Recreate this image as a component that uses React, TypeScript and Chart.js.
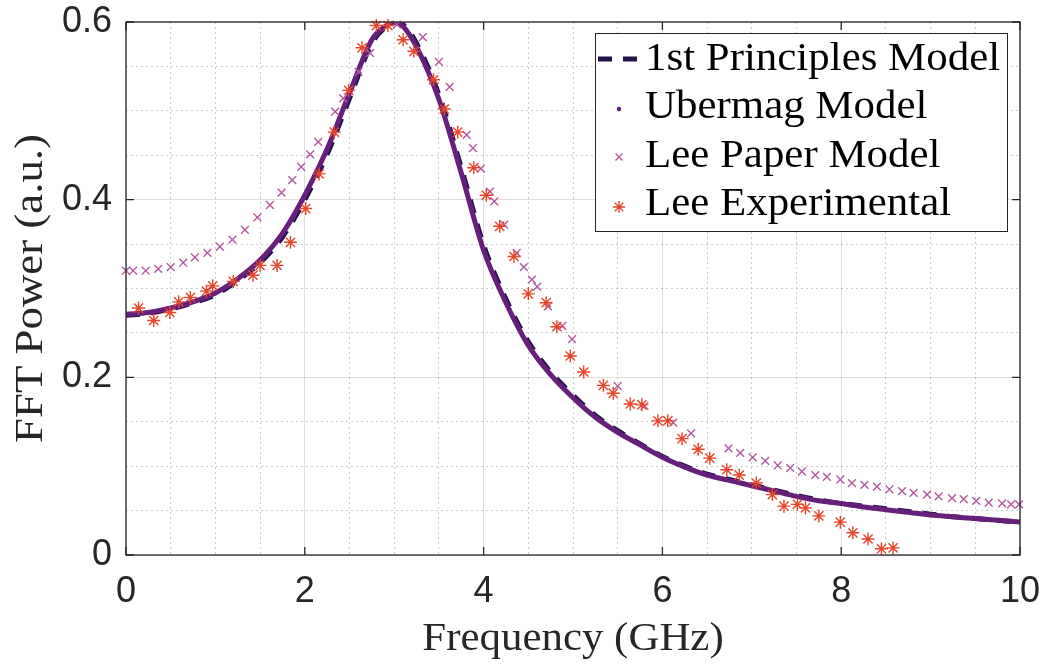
import React, { useEffect, useRef } from 'react';
import { Chart, registerables } from 'chart.js';

Chart.register(...registerables);

// ---------- data ----------
const modelX = [0, 0.25, 0.5, 0.75, 1, 1.25, 1.5, 1.75, 2, 2.25, 2.5, 2.75, 2.9, 3, 3.1, 3.25, 3.5, 3.75, 4, 4.25, 4.5, 4.75, 5, 5.25, 5.5, 5.75, 6, 6.25, 6.5, 6.75, 7, 7.25, 7.5, 7.75, 8, 8.25, 8.5, 8.75, 9, 9.25, 9.5, 9.75, 10];
const ubermagY = [0.271, 0.273, 0.278, 0.285, 0.295, 0.311, 0.332, 0.362, 0.405, 0.457, 0.52, 0.58, 0.595, 0.6, 0.595, 0.572, 0.513, 0.43, 0.343, 0.284, 0.236, 0.203, 0.177, 0.155, 0.138, 0.124, 0.11, 0.099, 0.09, 0.084, 0.078, 0.072, 0.066, 0.061, 0.058, 0.054, 0.051, 0.048, 0.045, 0.043, 0.041, 0.039, 0.037];
const principlesY = [0.27, 0.272, 0.277, 0.284, 0.293, 0.309, 0.329, 0.358, 0.4, 0.451, 0.514, 0.576, 0.594, 0.6, 0.597, 0.576, 0.518, 0.436, 0.349, 0.288, 0.24, 0.206, 0.18, 0.157, 0.14, 0.125, 0.111, 0.1, 0.091, 0.085, 0.079, 0.073, 0.067, 0.062, 0.058, 0.055, 0.052, 0.049, 0.046, 0.043, 0.041, 0.039, 0.037];

const leePaperX = [0, 0.08, 0.22, 0.36, 0.5, 0.64, 0.77, 0.91, 1.05, 1.19, 1.33, 1.47, 1.61, 1.74, 1.86, 1.96, 2.06, 2.15, 2.34, 2.43, 2.6, 2.73, 3.03, 3.32, 3.5, 3.62, 3.81, 3.88, 3.97, 4.07, 4.12, 4.23, 4.37, 4.45, 4.54, 4.6, 4.72, 4.88, 4.99, 5.5, 5.8, 6.12, 6.32, 6.74, 6.87, 7.01, 7.15, 7.29, 7.43, 7.56, 7.71, 7.84, 7.99, 8.12, 8.26, 8.4, 8.54, 8.68, 8.81, 8.96, 9.09, 9.24, 9.37, 9.51, 9.65, 9.8, 9.9, 9.99];
const leePaperY = [0.32, 0.32, 0.32, 0.322, 0.324, 0.329, 0.335, 0.34, 0.347, 0.355, 0.366, 0.38, 0.394, 0.408, 0.422, 0.437, 0.451, 0.465, 0.499, 0.514, 0.544, 0.565, 0.597, 0.583, 0.555, 0.527, 0.473, 0.458, 0.435, 0.409, 0.398, 0.372, 0.34, 0.324, 0.31, 0.302, 0.28, 0.258, 0.243, 0.19, 0.168, 0.149, 0.137, 0.12, 0.115, 0.11, 0.106, 0.101, 0.098, 0.094, 0.09, 0.088, 0.085, 0.081, 0.079, 0.077, 0.074, 0.072, 0.07, 0.068, 0.066, 0.064, 0.063, 0.061, 0.059, 0.058, 0.057, 0.057];

const leeExpX = [0.14, 0.31, 0.49, 0.59, 0.72, 0.9, 0.97, 1.2, 1.42, 1.5, 1.69, 1.84, 2.01, 2.16, 2.33, 2.49, 2.64, 2.8, 2.93, 3.1, 3.22, 3.44, 3.56, 3.71, 3.89, 4.03, 4.18, 4.34, 4.5, 4.7, 4.82, 4.97, 5.12, 5.34, 5.45, 5.64, 5.77, 5.95, 6.06, 6.22, 6.4, 6.53, 6.72, 6.86, 7.05, 7.23, 7.36, 7.51, 7.6, 7.75, 7.99, 8.13, 8.3, 8.45, 8.58];
const leeExpY = [0.278, 0.264, 0.273, 0.285, 0.29, 0.297, 0.303, 0.308, 0.315, 0.326, 0.326, 0.352, 0.39, 0.429, 0.476, 0.523, 0.571, 0.596, 0.596, 0.58, 0.567, 0.535, 0.502, 0.476, 0.436, 0.405, 0.37, 0.336, 0.294, 0.284, 0.257, 0.224, 0.206, 0.191, 0.182, 0.17, 0.169, 0.151, 0.151, 0.131, 0.119, 0.109, 0.096, 0.09, 0.081, 0.068, 0.055, 0.057, 0.053, 0.044, 0.037, 0.025, 0.018, 0.007, 0.008];

const xTickLabels = ['0', '2', '4', '6', '8', '10'];
const yTickLabels = ['0', '0.2', '0.4', '0.6'];
const seriesLabels = ['1st Principles Model', 'Ubermag Model', 'Lee Paper Model', 'Lee Experimental'];
const xTitle = 'Frequency (GHz)';
const yTitle = 'FFT Power (a.u.)';

// ---------- styles ----------
const SANS = '"Liberation Sans", Arial, sans-serif';
const SERIF = '"Liberation Serif", "Times New Roman", serif';
const DARK = '#22124a';
const PURPLE = '#661f7a';
const PINK = '#b45aa0';
const RED = '#e8452c';
const AXIS = '#262626';

const xMajor = xTickLabels.map(Number);
const yMajor = yTickLabels.map(Number);
const isMajor = (v: number | undefined, list: number[]) =>
  v !== undefined && list.some((m) => Math.abs(m - v) < 1e-6);

const pts = (xs: number[], ys: number[]) => xs.map((x, i) => ({ x, y: ys[i] }));

function stretchedText(ctx: CanvasRenderingContext2D, text: string, x: number, y: number, sx: number, align: CanvasTextAlign, rot = 0) {
  ctx.save();
  ctx.translate(x, y);
  if (rot) ctx.rotate(rot);
  ctx.scale(sx, 1);
  ctx.textAlign = align;
  ctx.textBaseline = 'alphabetic';
  ctx.fillText(text, 0, 0);
  ctx.restore();
}

function drawStar(ctx: CanvasRenderingContext2D, x: number, y: number, r: number) {
  ctx.beginPath();
  for (let k = 0; k < 4; k++) {
    const a = (k * Math.PI) / 4;
    ctx.moveTo(x - Math.cos(a) * r, y - Math.sin(a) * r);
    ctx.lineTo(x + Math.cos(a) * r, y + Math.sin(a) * r);
  }
  ctx.stroke();
}

const framePlugin = {
  id: 'frame',
  afterDraw(chart: any) {
    const { ctx, chartArea: a, scales } = chart;
    const xs = scales.x;
    const ys = scales.y;
    ctx.save();
    // box
    ctx.strokeStyle = AXIS;
    ctx.lineWidth = 1.3;
    ctx.setLineDash([]);
    ctx.strokeRect(a.left, a.top, a.right - a.left, a.bottom - a.top);
    // inward ticks on all sides
    const L = 8;
    ctx.beginPath();
    xMajor.forEach((v) => {
      const p = xs.getPixelForValue(v);
      ctx.moveTo(p, a.bottom); ctx.lineTo(p, a.bottom - L);
      ctx.moveTo(p, a.top); ctx.lineTo(p, a.top + L);
    });
    yMajor.forEach((v) => {
      const p = ys.getPixelForValue(v);
      ctx.moveTo(a.left, p); ctx.lineTo(a.left + L, p);
      ctx.moveTo(a.right, p); ctx.lineTo(a.right - L, p);
    });
    ctx.stroke();

    // axis titles
    ctx.fillStyle = AXIS;
    ctx.font = `39px ${SERIF}`;
    stretchedText(ctx, xTitle, (a.left + a.right) / 2, 650, 1.1, 'center');
    stretchedText(ctx, yTitle, 42, (a.top + a.bottom) / 2, 1.15, 'center', -Math.PI / 2);

    // legend
    const bx = 595;
    const by = a.top + 11;
    const bw = a.right - 13 - bx;
    const bh = 198;
    ctx.fillStyle = '#ffffff';
    ctx.fillRect(bx, by, bw, bh);
    ctx.strokeStyle = AXIS;
    ctx.lineWidth = 1;
    ctx.strokeRect(bx + 0.5, by + 0.5, bw, bh);

    const baselines = [37, 85, 134, 182].map((d) => by + d);
    const sx = bx + 24;
    // dashed line
    ctx.save();
    ctx.strokeStyle = DARK;
    ctx.lineWidth = 5;
    ctx.setLineDash([14, 11]);
    ctx.beginPath();
    ctx.moveTo(bx + 3, baselines[0] - 11);
    ctx.lineTo(bx + 47, baselines[0] - 11);
    ctx.stroke();
    ctx.restore();
    // dot
    ctx.fillStyle = PURPLE;
    ctx.beginPath();
    ctx.arc(sx, baselines[1] - 9, 2.2, 0, Math.PI * 2);
    ctx.fill();
    // x
    ctx.strokeStyle = PINK;
    ctx.lineWidth = 1.3;
    const c = baselines[2] - 10;
    ctx.beginPath();
    ctx.moveTo(sx - 3.5, c - 3.5); ctx.lineTo(sx + 3.5, c + 3.5);
    ctx.moveTo(sx - 3.5, c + 3.5); ctx.lineTo(sx + 3.5, c - 3.5);
    ctx.stroke();
    // star
    ctx.strokeStyle = RED;
    ctx.lineWidth = 1.3;
    drawStar(ctx, sx, baselines[3] - 8, 6);

    ctx.fillStyle = '#000000';
    ctx.font = `39px ${SERIF}`;
    seriesLabels.forEach((t, i) => stretchedText(ctx, t, bx + 50, baselines[i], 1.1, 'left'));
    ctx.restore();
  },
};

export default function App() {
  const ref = useRef<HTMLCanvasElement | null>(null);

  useEffect(() => {
    if (!ref.current) return;
    const chart = new Chart(ref.current, {
      type: 'scatter',
      data: {
        datasets: [
          {
            label: seriesLabels[0],
            data: pts(modelX, principlesY),
            showLine: true,
            borderColor: DARK,
            borderWidth: 5,
            borderDash: [14, 11],
            pointRadius: 0,
            cubicInterpolationMode: 'monotone',
            order: 3,
          },
          {
            label: seriesLabels[1],
            data: pts(modelX, ubermagY),
            showLine: true,
            borderColor: PURPLE,
            borderWidth: 5,
            pointRadius: 0,
            cubicInterpolationMode: 'monotone',
            order: 2,
          },
          {
            label: seriesLabels[2],
            data: pts(leePaperX, leePaperY),
            showLine: false,
            pointStyle: 'crossRot',
            pointRadius: 5.5,
            pointBorderWidth: 1.4,
            borderColor: PINK,
            backgroundColor: PINK,
            clip: false,
            order: 1,
          },
          {
            label: seriesLabels[3],
            data: pts(leeExpX, leeExpY),
            showLine: false,
            pointStyle: 'star',
            pointRadius: 6.5,
            pointBorderWidth: 1.4,
            borderColor: RED,
            backgroundColor: RED,
            clip: false,
            order: 0,
          },
        ] as any,
      },
      options: {
        responsive: false,
        animation: false,
        devicePixelRatio: 1,
        layout: { padding: { top: 22, right: 23, left: 0, bottom: 0 } },
        plugins: { legend: { display: false }, tooltip: { enabled: false } },
        scales: {
          x: {
            type: 'linear',
            min: 0,
            max: 10,
            ticks: {
              stepSize: 0.5,
              autoSkip: false,
              maxRotation: 0,
              padding: 15,
              color: AXIS,
              font: { family: SANS, size: 36 },
              callback: (v: any) => {
                const i = xMajor.findIndex((m) => Math.abs(m - Number(v)) < 1e-6);
                return i >= 0 ? xTickLabels[i] : '';
              },
            },
            grid: {
              drawTicks: false,
              lineWidth: 1,
              color: (c: any) => (isMajor(c.tick?.value, xMajor) ? 'rgba(0,0,0,0.12)' : 'rgba(0,0,0,0.2)'),
            },
            border: {
              display: false,
              dash: (c: any) => (c.tick && !isMajor(c.tick.value, xMajor) ? [2, 3] : []),
            },
            afterFit: (s: any) => {
              s.height = 109;
              s.paddingLeft = 0;
              s.paddingRight = 0;
            },
          },
          y: {
            type: 'linear',
            min: 0,
            max: 0.6,
            ticks: {
              stepSize: 0.05,
              autoSkip: false,
              padding: 14,
              color: AXIS,
              font: { family: SANS, size: 36 },
              callback: (v: any) => {
                const i = yMajor.findIndex((m) => Math.abs(m - Number(v)) < 1e-6);
                return i >= 0 ? yTickLabels[i] : '';
              },
            },
            grid: {
              drawTicks: false,
              lineWidth: 1,
              color: (c: any) => (isMajor(c.tick?.value, yMajor) ? 'rgba(0,0,0,0.12)' : 'rgba(0,0,0,0.2)'),
            },
            border: {
              display: false,
              dash: (c: any) => (c.tick && !isMajor(c.tick.value, yMajor) ? [2, 3] : []),
            },
            afterFit: (s: any) => {
              s.width = 126;
              s.paddingTop = 0;
              s.paddingBottom = 0;
            },
          },
        },
      } as any,
      plugins: [framePlugin],
    });
    return () => chart.destroy();
  }, []);

  return (
    <div style={{ position: 'fixed', left: 0, top: 0, width: 1043, height: 664, background: '#fff' }}>
      <canvas ref={ref} width={1043} height={664} />
    </div>
  );
}
